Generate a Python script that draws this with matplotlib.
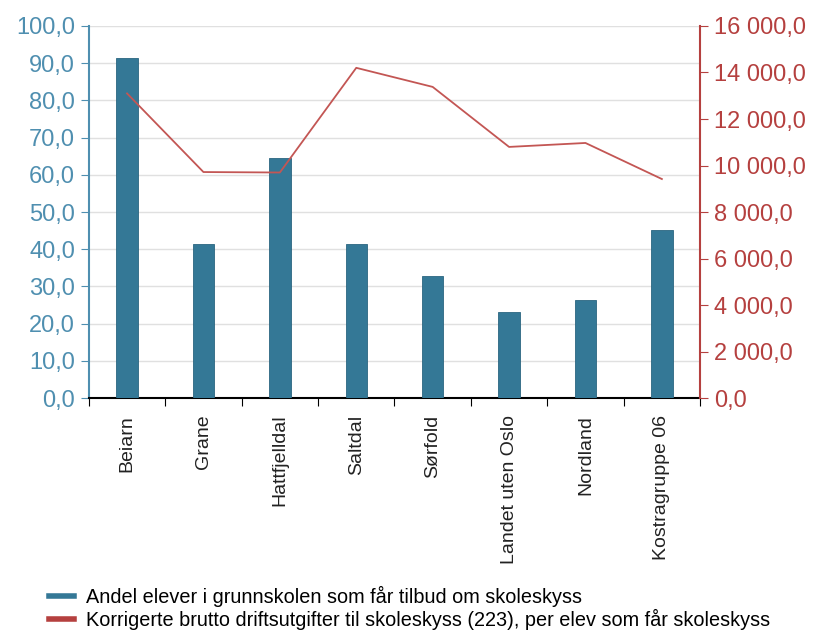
import numpy as np
import matplotlib.pyplot as plt
from matplotlib.lines import Line2D

plt.rcParams['font.family'] = ['Liberation Sans', 'DejaVu Sans']

# Data
categories = ['Beiarn', 'Grane', 'Hattfjelldal', 'Saltdal', 'Sørfold',
              'Landet uten Oslo', 'Nordland', 'Kostragruppe 06']
andel = [91.4, 41.4, 64.6, 41.4, 32.8, 23.1, 26.3, 45.2]
utgifter = [13100, 9720, 9700, 14200, 13380, 10800, 10970, 9420]

left_ticks = np.arange(0, 101, 10)
right_ticks = np.arange(0, 16001, 2000)

bar_color = '#347896'
left_color = '#4f8fb0'
red_axis = '#b5403f'
line_color = '#c35654'


def fmt(v):
    s = f"{v:,.1f}".replace(',', ' ').replace('.', ',')
    return s


fig = plt.figure(figsize=(8.15, 6.33), dpi=100)
ax = fig.add_axes([0.109, 0.371, 0.75, 0.588])
x = np.arange(len(categories))

ax.bar(x, andel, width=0.28, color=bar_color, edgecolor='#2a6580', linewidth=0.6, zorder=3)
ax.set_xlim(-0.5, len(categories) - 0.5)
ax.set_ylim(0, 100)
ax.set_yticks(left_ticks)
ax.set_yticklabels([fmt(v) for v in left_ticks], color=left_color, fontsize=17)
ax.grid(axis='y', color='#e0e0e0', linewidth=1, zorder=0)
ax.set_axisbelow(True)

ax.set_xticks(np.arange(len(categories) + 1) - 0.5, minor=False)
ax.set_xticklabels([])
ax.set_xticks(x, minor=True)
ax.set_xticklabels(categories, minor=True, rotation=90, fontsize=14, color='#222222')
ax.tick_params(axis='x', which='minor', length=0, pad=12)
ax.tick_params(axis='x', which='major', length=6, color='black', direction='out')
ax.tick_params(axis='y', length=6, color=left_color, pad=4)

for s in ['top', 'right']:
    ax.spines[s].set_visible(False)
ax.spines['left'].set_color(left_color)
ax.spines['left'].set_linewidth(1.5)
ax.spines['bottom'].set_color('black')
ax.spines['bottom'].set_linewidth(1.5)

ax2 = ax.twinx()
ax2.plot(x, utgifter, color=line_color, linewidth=1.3, zorder=4)
ax2.set_ylim(0, 16000)
ax2.set_yticks(right_ticks)
ax2.set_yticklabels([fmt(v) for v in right_ticks], color=red_axis, fontsize=17)
ax2.tick_params(axis='y', length=6, color=red_axis, pad=4)
for s in ['top', 'left', 'bottom']:
    ax2.spines[s].set_visible(False)
ax2.spines['right'].set_color(red_axis)
ax2.spines['right'].set_linewidth(1.5)

handles = [Line2D([], [], color=bar_color, linewidth=4),
           Line2D([], [], color=red_axis, linewidth=4)]
labels = ['Andel elever i grunnskolen som får tilbud om skoleskyss',
          'Korrigerte brutto driftsutgifter til skoleskyss (223), per elev som får skoleskyss']
fig.legend(handles, labels, loc='lower left', bbox_to_anchor=(0.045, -0.014),
           frameon=False, fontsize=14.3, handlelength=1.3, handletextpad=0.6,
           labelspacing=0.1, borderaxespad=0.2)

fig.savefig('out.png', dpi=100)
